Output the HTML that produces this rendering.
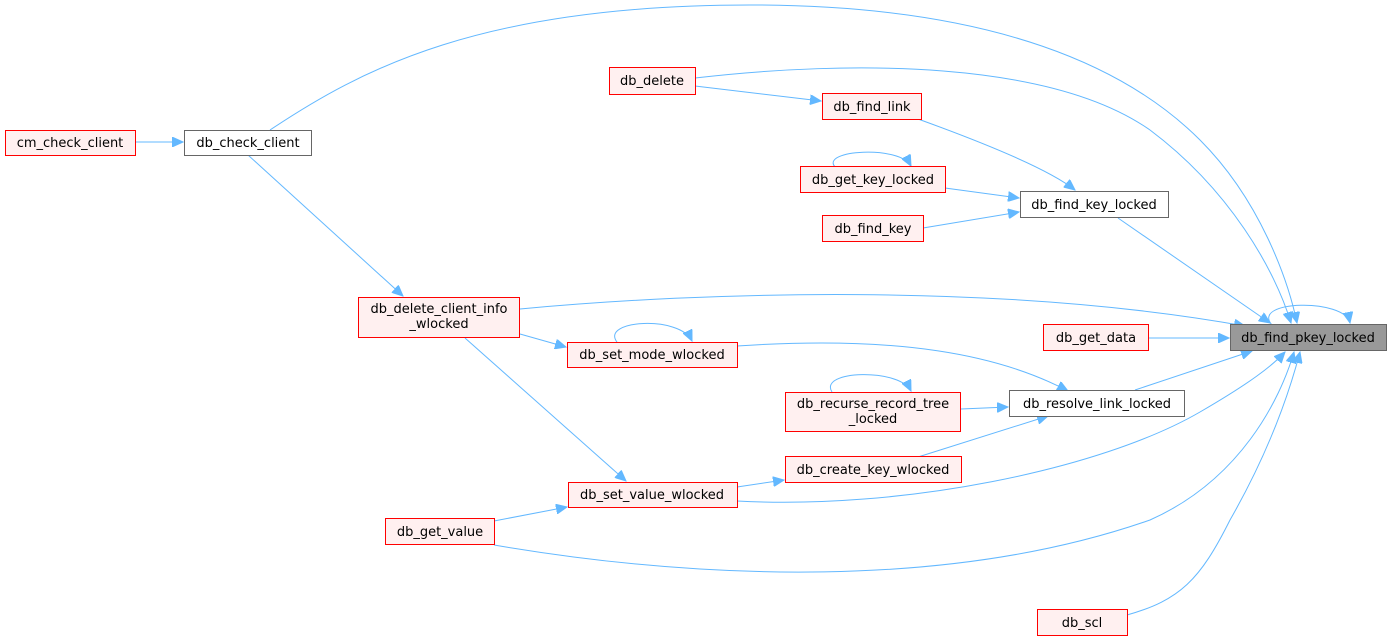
<!DOCTYPE html>
<html><head><meta charset="utf-8"><style>
html,body{margin:0;padding:0;background:#fff;}
svg{display:block;}
text{font-family:"DejaVu Sans","Liberation Sans",sans-serif;font-size:13px;fill:#000;text-anchor:middle;}
.r{fill:#fff0f0;stroke:#ff0000;stroke-width:1;}
.w{fill:#fff;stroke:#666;stroke-width:1;}
.g{fill:#999;stroke:#666;stroke-width:1;}
.e{fill:none;stroke:#63b8ff;stroke-width:1;marker-end:url(#a);}
</style></head><body>
<svg width="1392" height="639" viewBox="0 0 1392 639">
<defs><marker id="a" markerWidth="12" markerHeight="10" refX="11" refY="5" orient="auto" markerUnits="userSpaceOnUse"><path d="M0,0 L11,5 L0,10 z" fill="#63b8ff" stroke="#63b8ff"/></marker></defs>
<path class="e" d="M136,142 L183,142"/>
<path class="e" d="M270,130 C360,70 480,5 750,5 C1000,5 1130,70 1200,140 C1260,200 1288,280 1297,323"/>
<path class="e" d="M695,78 C850,60 1050,60 1150,130 C1230,190 1275,270 1291,323"/>
<path class="e" d="M695,86 L821,101"/>
<path class="e" d="M248,155 L403,296"/>
<path class="e" d="M918,119 C990,145 1050,170 1075,190"/>
<path class="e" d="M835,167 C820,150 900,145 911,166"/>
<path class="e" d="M945,188 L1019,198"/>
<path class="e" d="M923,228 L1019,212"/>
<path class="e" d="M1118,218 L1270,323"/>
<path class="e" d="M520,309 C700,292 1000,282 1245,326"/>
<path class="e" d="M520,334 L566,347"/>
<path class="e" d="M617,342 C600,320 680,315 692,341"/>
<path class="e" d="M465,338 L626,481"/>
<path class="e" d="M737,346 C900,335 1000,355 1068,391"/>
<path class="e" d="M1148,338 L1229,338"/>
<path class="e" d="M1135,390 L1252,351"/>
<path class="e" d="M832,392 C818,370 900,368 911,391"/>
<path class="e" d="M961,409 L1008,407"/>
<path class="e" d="M918,457 L1048,416"/>
<path class="e" d="M737,487 L784,480"/>
<path class="e" d="M737,501 C900,510 1100,470 1200,412 C1250,383 1272,366 1285,352"/>
<path class="e" d="M494,521 L567,507"/>
<path class="e" d="M494,545 C700,580 950,590 1150,520 C1240,480 1280,400 1294,352"/>
<path class="e" d="M1127,615 C1180,600 1200,580 1230,520 C1270,450 1290,390 1300,352"/>
<path class="e" d="M1272,325 C1250,300 1345,298 1350,323"/>
<rect class="r" x="5.5" y="130.5" width="130" height="25"/><text x="70" y="147">cm_check_client</text>
<rect class="w" x="184.5" y="130.5" width="127" height="25"/><text x="248" y="147">db_check_client</text>
<rect class="r" x="609.5" y="67.5" width="86" height="27"/><text x="652" y="85">db_delete</text>
<rect class="r" x="822.5" y="93.5" width="99" height="26"/><text x="872" y="111">db_find_link</text>
<rect class="r" x="800.5" y="166.5" width="145" height="26"/><text x="873" y="184">db_get_key_locked</text>
<rect class="w" x="1020.5" y="191.5" width="148" height="26"/><text x="1094" y="209">db_find_key_locked</text>
<rect class="r" x="822.5" y="215.5" width="101" height="26"/><text x="873" y="233">db_find_key</text>
<rect class="r" x="358.5" y="297.5" width="161" height="40"/><text x="439" y="313">db_delete_client_info</text><text x="439" y="328">_wlocked</text>
<rect class="r" x="1043.5" y="324.5" width="105" height="26"/><text x="1096" y="342">db_get_data</text>
<rect class="g" x="1230.5" y="324.5" width="156" height="26"/><text x="1308" y="342">db_find_pkey_locked</text>
<rect class="r" x="567.5" y="342.5" width="170" height="25"/><text x="652" y="359">db_set_mode_wlocked</text>
<rect class="r" x="785.5" y="392.5" width="175" height="39"/><text x="873" y="408">db_recurse_record_tree</text><text x="873" y="423">_locked</text>
<rect class="w" x="1009.5" y="390.5" width="175" height="26"/><text x="1097" y="408">db_resolve_link_locked</text>
<rect class="r" x="785.5" y="456.5" width="176" height="26"/><text x="873" y="474">db_create_key_wlocked</text>
<rect class="r" x="568.5" y="482.5" width="169" height="25"/><text x="652" y="499">db_set_value_wlocked</text>
<rect class="r" x="385.5" y="518.5" width="109" height="26"/><text x="440" y="536">db_get_value</text>
<rect class="r" x="1037.5" y="609.5" width="90" height="26"/><text x="1082" y="627">db_scl</text>
</svg>
</body></html>
